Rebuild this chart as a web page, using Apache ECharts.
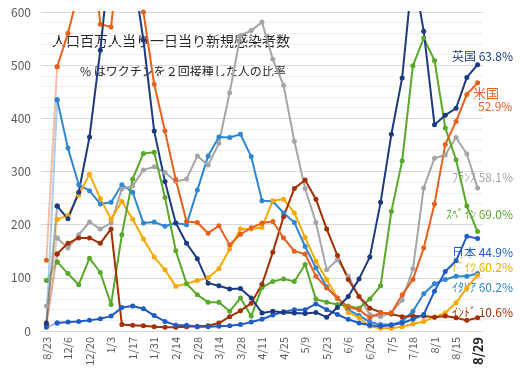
<!DOCTYPE html>
<html><head><meta charset="utf-8">
<script src="https://cdn.jsdelivr.net/npm/echarts@6/dist/echarts.min.js"></script>
<style>html,body{margin:0;padding:0;background:#fff}#c{width:520px;height:371px}</style>
</head><body><div id="c"></div>
<script>
var categories = ['8/23','11/29','12/6','12/13','12/20','12/27','1/3','1/10','1/17','1/24','1/31','2/7','2/14','2/21','2/28','3/7','3/14','3/21','3/28','4/4','4/11','4/18','4/25','5/2','5/9','5/16','5/23','5/30','6/6','6/13','6/20','6/27','7/5','7/11','7/18','7/25','8/1','8/8','8/15','8/22','8/29'];
var yTicks = [0,100,200,300,400,500,600];

var uk = [15,235,211,261,365,528,723,850,683,547,376,281,203,165,136,90,85,79,80,62,34,37,35,34,33,35,26,44,65,98,139,242,370,476,680,564,388,406,419,477,501];
var us = [133,497,560,640,780,577,572,760,700,600,464,376,285,206,204,184,198,162,182,194,203,206,175,150,145,103,81,62,45,40,25,34,34,68,97,156,239,351,394,445,467];
var france = [47,175,156,181,205,192,203,267,273,303,309,298,281,286,329,312,353,448,556,565,581,511,462,357,268,204,115,134,103,65,31,27,35,58,117,269,325,331,364,333,269];
var spain = [95,130,108,87,137,110,50,181,286,334,336,251,151,89,68,54,54,37,62,28,82,93,98,93,125,60,54,50,47,43,60,85,225,320,499,551,509,382,322,235,187];
var japan = [7,15,17,18,20,23,28,44,47,42,29,18,11,11,8,8,9,10,12,17,22,30,36,40,40,51,40,31,22,15,11,9,11,15,22,31,75,112,132,178,174];
var germany = [14,210,217,256,295,249,210,244,210,173,139,115,84,89,95,100,117,154,192,192,195,245,248,222,176,131,97,62,35,25,9,5,5,8,13,18,26,34,53,81,105];
var italy = [10,435,344,275,264,239,242,275,261,203,205,197,203,200,265,329,365,364,370,328,245,244,222,204,159,119,83,61,40,29,17,12,12,18,37,70,89,97,103,103,108];
var india = [12,145,165,175,175,165,192,12,11,10,8,7,7,8,9,10,15,27,38,52,88,148,215,268,284,248,192,142,97,65,43,35,32,27,28,28,26,28,25,20,25];

var countries = [
  {name:'イタリア', data: italy,   color:'#2F86D1', label:'ｲﾀﾘｱ 60.2%', y:287},
  {name:'フランス', data: france,  color:'#A5A5A5', label:'ﾌﾗﾝｽ 58.1%', y:177},
  {name:'ドイツ',   data: germany, color:'#F8A800', label:'ﾄﾞｲﾂ 60.2%', y:267},
  {name:'スペイン', data: spain,   color:'#58A82A', label:'ｽﾍﾟｲﾝ 69.0%', y:214},
  {name:'インド',   data: india,   color:'#A12F00', label:'ｲﾝﾄﾞ 10.6%', y:312},
  {name:'米国',     data: us,      color:'#E8601C', label:null, y:0},
  {name:'日本',     data: japan,   color:'#1F5CC8', label:'日本 44.9%', y:252},
  {name:'英国',     data: uk,      color:'#1C3A7E', label:'英国 63.8%', y:56}
];

var series = [];
countries.forEach(function(c){
  series.push({
    name: c.name + '_gap', type:'line', data: c.data.map(function(v,i){return i<=1? v : null;}),
    symbol:'circle', symbolSize:5, showSymbol:true,
    lineStyle:{color:c.color, width:2, opacity:0.4},
    itemStyle:{color:c.color}, silent:true, animation:false, z:2
  });
  series.push({
    name: c.name, type:'line', data: c.data.map(function(v,i){return i>=1? v : null;}),
    symbol:'circle', symbolSize:5, showSymbol:true,
    lineStyle:{color:c.color, width:2},
    itemStyle:{color:c.color}, animation:false, z:3
  });
});

var font = '"Noto Sans CJK JP", "Noto Sans", sans-serif';
var graphics = [
  {type:'text', left:52, top:34, style:{text:'人口百万人当り一日当り新規感染者数', font:'14px '+font, fill:'#262626'}},
  {type:'text', left:80, top:65, style:{text:'% はワクチンを２回接種した人の比率', font:'12px '+font, fill:'#262626'}},
  {type:'text', right:8, top:87, style:{text:'米国', font:'13px '+font, fill:'#E8601C', textAlign:'left'}, left:473},
  {type:'text', left:478, top:100, style:{text:'52.9%', font:'12px '+font, fill:'#E8601C'}}
];
countries.forEach(function(c){
  if(!c.label) return;
  graphics.push({type:'text', x:513, y:c.y, style:{text:c.label, font:'12px '+font, fill:c.color, textAlign:'right', textVerticalAlign:'middle'}});
});

var chart = echarts.init(document.getElementById('c'), null, {renderer:'canvas'});
chart.setOption({
  animation:false,
  grid:{left:41, right:37, top:12, bottom:40, containLabel:false},
  xAxis:{
    type:'category', data:categories, boundaryGap:true,
    axisLine:{show:true, lineStyle:{color:'#d9d9d9'}},
    axisTick:{show:false},
    axisLabel:{interval:1, rotate:90, margin:6, fontSize:11, color:'#595959', fontFamily:font,
      formatter:function(v,i){ return i===categories.length-1 ? '{b|'+v+'}' : v; },
      rich:{b:{fontSize:13, fontWeight:'bold', color:'#222', fontFamily:font}}}
  },
  yAxis:{
    type:'value', min:yTicks[0], max:yTicks[yTicks.length-1], interval:100,
    axisLine:{show:false}, axisTick:{show:false},
    axisLabel:{fontSize:12, color:'#595959', margin:10, fontFamily:font},
    splitLine:{lineStyle:{color:'#d9d9d9'}},
    minorTick:{show:false, splitNumber:5},
    minorSplitLine:{show:true, lineStyle:{color:'#f0f0f0'}}
  },
  graphic:graphics,
  series:series
});
</script></body></html>
